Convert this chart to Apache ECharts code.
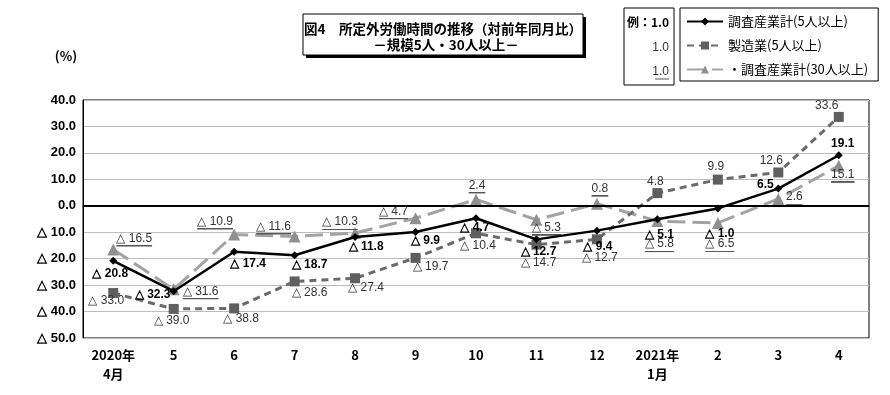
<!DOCTYPE html>
<html>
<head>
<meta charset="utf-8">
<script src="https://cdn.jsdelivr.net/npm/echarts@6/dist/echarts.min.js"></script>
<style>
html,body{margin:0;padding:0;background:#fff;}
#chart{width:890px;height:395px;}
</style>
</head>
<body>
<div id="chart"></div>
<script>
// ---- data ----
const categories = ['2020年\n4月','5','6','7','8','9','10','11','12','2021年\n1月','2','3','4'];
const total5 = [-20.8,-32.3,-17.4,-18.7,-11.8,-9.9,-4.7,-12.7,-9.4,-5.1,-1.0,6.5,19.1];
const manuf5 = [-33.0,-39.0,-38.8,-28.6,-27.4,-19.7,-10.4,-14.7,-12.7,4.8,9.9,12.6,33.6];
const total30 = [-16.5,-31.6,-10.9,-11.6,-10.3,-4.7,2.4,-5.3,0.8,-5.8,-6.5,2.6,15.1];
const seriesNames = ['調査産業計(5人以上)','製造業(5人以上)','調査産業計(30人以上)'];

// ---- label placement (pixel offsets from each point) ----
const off1 = [[-3,13],[-21,3],[14,12],[15,9],[11,10],[10,9],[-1,9],[2,12],[1,16],[2,15],[2,25],[-13,-4],[4,-12]];
const off2 = [[-7,8],[-2,12],[7,10],[15,11],[11,9],[15,9],[2,12],[2,18],[3,18],[-2,-11],[-2,-13],[-7,-12],[-12,-11]];
const off3 = [[21,-10],[27,3],[-19,-12],[-21,-9],[-15,-10],[-22,-6],[1,-13],[10,9],[3,-14],[2,24],[2,22],[16,-1],[4,10]];

const fmt = v => (v < 0 ? '△ ' + Math.abs(v).toFixed(1) : v.toFixed(1));
const numFont = '"Liberation Sans Narrow","Liberation Sans",sans-serif';
const jpFont = '"Noto Sans CJK JP","Noto Sans",sans-serif';

const chart = echarts.init(document.getElementById('chart'));

function build(values, offs) {
  return values.map((v, i) => ({ value: v, label: { offset: offs[i] } }));
}

const underlineBg = new echarts.graphic.LinearGradient(0, 0, 0, 1, [
  { offset: 0, color: 'rgba(0,0,0,0)' },
  { offset: 0.9, color: 'rgba(0,0,0,0)' },
  { offset: 0.9, color: '#555' },
  { offset: 1, color: '#555' }
]);

chart.setOption({
  animation: false,
  backgroundColor: '#fff',
  grid: { left: 83, right: 21, top: 100, bottom: 57, show: true, borderColor: '#000', borderWidth: 1 },
  legend: {
    orient: 'vertical', left: 680, top: 8,
    padding: [7, 10, 5, 6], itemGap: 11, itemWidth: 36, itemHeight: 10,
    borderColor: '#000', borderWidth: 1,
    formatter: n => (n === seriesNames[2] ? '・' + n : n),
    textStyle: { fontSize: 13, fontFamily: jpFont, color: '#000', padding: [0, 0, 0, 0] },
    data: seriesNames
  },
  xAxis: {
    type: 'category', data: categories, boundaryGap: true,
    axisLine: { lineStyle: { color: '#000', width: 1 } },
    axisTick: { show: false },
    axisLabel: { color: '#000', fontSize: 13, fontWeight: 'bold', fontFamily: jpFont, margin: 8, lineHeight: 19, interval: 0 }
  },
  yAxis: {
    type: 'value', min: -50, max: 40, interval: 10,
    axisLine: { show: true, lineStyle: { color: '#000', width: 1 } },
    axisTick: { show: false },
    splitLine: { lineStyle: { color: '#bdbdbd', width: 1 } },
    axisLabel: { color: '#000', fontSize: 13, fontWeight: 'bold', fontFamily: '"Liberation Sans",sans-serif', margin: 7, formatter: fmt }
  },
  series: [
    {
      name: seriesNames[2], type: 'line', data: build(total30, off3), z: 2,
      symbol: 'triangle', symbolSize: 12,
      itemStyle: { color: '#8f8f8f' },
      lineStyle: { color: '#a3a3a3', width: 3, type: [18, 7] },
      label: {
        show: true, position: 'inside', color: '#333', fontSize: 12, fontFamily: numFont,
        formatter: p => '{u|' + fmt(p.value) + '}',
        rich: { u: { backgroundColor: underlineBg, padding: [0, 0, 2, 0], fontSize: 12, fontFamily: numFont, color: '#333' } }
      }
    },
    {
      name: seriesNames[1], type: 'line', data: build(manuf5, off2), z: 3,
      symbol: 'rect', symbolSize: 10,
      itemStyle: { color: '#5f5f5f' },
      lineStyle: { color: '#6a6a6a', width: 3, type: [7, 5] },
      label: { show: true, position: 'inside', color: '#333', fontSize: 12, fontFamily: numFont, formatter: p => fmt(p.value) }
    },
    {
      name: seriesNames[0], type: 'line', data: build(total5, off1), z: 4,
      symbol: 'diamond', symbolSize: 8,
      itemStyle: { color: '#000' },
      lineStyle: { color: '#000', width: 2.5 },
      label: { show: true, position: 'inside', color: '#000', fontSize: 12, fontWeight: 'bold', fontFamily: numFont, formatter: p => fmt(p.value) },
      markLine: {
        silent: true, symbol: 'none', label: { show: false },
        lineStyle: { color: '#000', width: 2, type: 'solid' },
        data: [{ yAxis: 0 }]
      }
    }
  ],
  graphic: [
    { type: 'rect', shape: { x: 306, y: 17, width: 280, height: 41 }, style: { fill: '#000' }, silent: true },
    { type: 'rect', shape: { x: 303, y: 14, width: 280, height: 41 }, style: { fill: '#fff', stroke: '#000', lineWidth: 1 }, silent: true },
    { type: 'text', x: 443, y: 29, style: { text: '図4　所定外労働時間の推移（対前年同月比）', font: 'bold 13.5px ' + jpFont, fill: '#000', textAlign: 'center', textVerticalAlign: 'middle' } },
    { type: 'text', x: 446, y: 45, style: { text: '－規模5人・30人以上－', font: 'bold 13.5px ' + jpFont, fill: '#000', textAlign: 'center', textVerticalAlign: 'middle' } },
    { type: 'rect', shape: { x: 624, y: 8, width: 50, height: 77 }, style: { fill: '#fff', stroke: '#000', lineWidth: 1 }, silent: true },
    { type: 'text', x: 669, y: 22, style: { text: '例：1.0', font: 'bold 12px ' + jpFont, fill: '#000', textAlign: 'right', textVerticalAlign: 'middle' } },
    { type: 'text', x: 669, y: 48, style: { text: '1.0', font: '12px ' + numFont, fill: '#333', textAlign: 'right', textVerticalAlign: 'middle' } },
    { type: 'text', x: 669, y: 72, style: { text: '1.0', font: '12px ' + numFont, fill: '#333', textAlign: 'right', textVerticalAlign: 'middle' } },
    { type: 'line', shape: { x1: 655, y1: 79, x2: 669, y2: 79 }, style: { stroke: '#555', lineWidth: 1 } },
    { type: 'text', x: 66, y: 56, style: { text: '(%)', font: 'bold 13px ' + jpFont, fill: '#000', textAlign: 'center', textVerticalAlign: 'middle' } }
  ]
});
</script>
</body>
</html>
